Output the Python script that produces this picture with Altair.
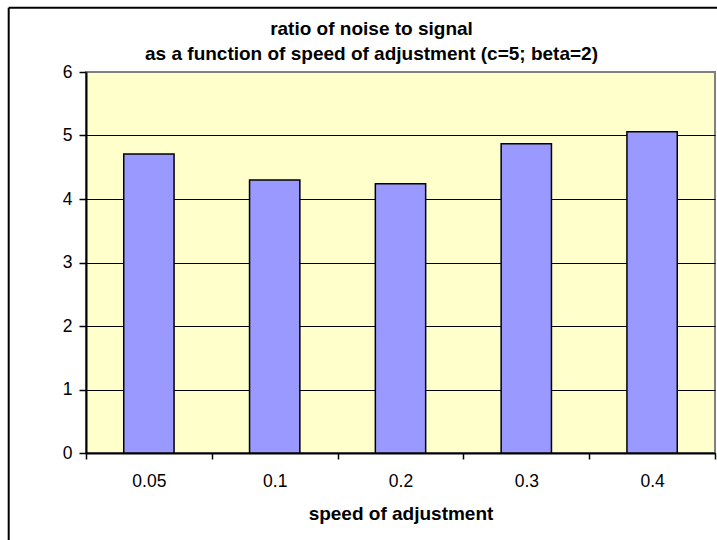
import altair as alt
import pandas as pd

# Speed-of-adjustment settings and the resulting noise/signal ratio
speeds = ["0.05", "0.1", "0.2", "0.3", "0.4"]
ratios = [4.71, 4.30, 4.24, 4.87, 5.06]
y_ticks = [0, 1, 2, 3, 4, 5, 6]

df = pd.DataFrame({"speed": speeds, "ratio": ratios})

FONT = "Liberation Sans"

bars = alt.Chart(df).mark_bar(
    fill="#9999FF", stroke="black", strokeWidth=1.5,
    width=alt.RelativeBandSize(0.4),
).encode(
    x=alt.X(
        "speed:N",
        sort=speeds,
        title="speed of adjustment",
        scale=alt.Scale(paddingInner=0, paddingOuter=0),
        axis=alt.Axis(
            labelAngle=0,
            tickBand="extent",
            grid=False,
            domainColor="black",
            domainWidth=2,
            tickColor="black",
            tickWidth=1.5,
            tickSize=6,
            labelFont=FONT,
            labelFontSize=17.5,
            labelColor="black",
            labelPadding=13,
            titleFont=FONT,
            titleFontSize=19,
            titleFontWeight="bold",
            titleColor="black",
            titlePadding=15,
        ),
    ),
    y=alt.Y(
        "ratio:Q",
        title=None,
        scale=alt.Scale(domain=[0, 6], nice=False),
        axis=alt.Axis(
            values=y_ticks,
            grid=True,
            gridColor=alt.condition("datum.value == 6", alt.value("#808080"), alt.value("black")),
            gridWidth=1,
            gridOpacity=1,
            domainColor="black",
            domainWidth=2,
            tickColor="black",
            tickWidth=1.5,
            tickSize=7,
            labelFont=FONT,
            labelFontSize=17.5,
            labelColor="black",
            labelPadding=7,
        ),
    ),
)

# Outer frame of the chart (left and top edges)
frame = alt.Data(values=[{}])
left_edge = alt.Chart(frame).mark_rule(color="black", strokeWidth=2).encode(
    x=alt.value(-77.3), y=alt.value(-64.3), y2=alt.value(520)
)
top_edge = alt.Chart(frame).mark_rule(color="black", strokeWidth=2).encode(
    x=alt.value(-77.3), x2=alt.value(720), y=alt.value(-64.3)
)

chart = (
    alt.layer(bars, left_edge, top_edge)
    .properties(
        width=629,
        height=381,
        autosize=alt.AutoSizeParams(type="none"),
        padding={"left": 86, "top": 72, "right": 2, "bottom": 87},
        background="white",
        title=alt.TitleParams(
            ["ratio of noise to signal", "as a function of speed of adjustment (c=5; beta=2)"],
            font=FONT,
            fontSize=19,
            fontWeight="bold",
            color="black",
            anchor="middle",
            dx=-29,
            dy=65,
            lineHeight=25,
            offset=8,
        ),
    )
    .configure_view(fill="#FFFFCC", stroke="#808080", strokeWidth=2)
)

chart.save("out.html", embed_options={"renderer": "svg", "actions": False})
